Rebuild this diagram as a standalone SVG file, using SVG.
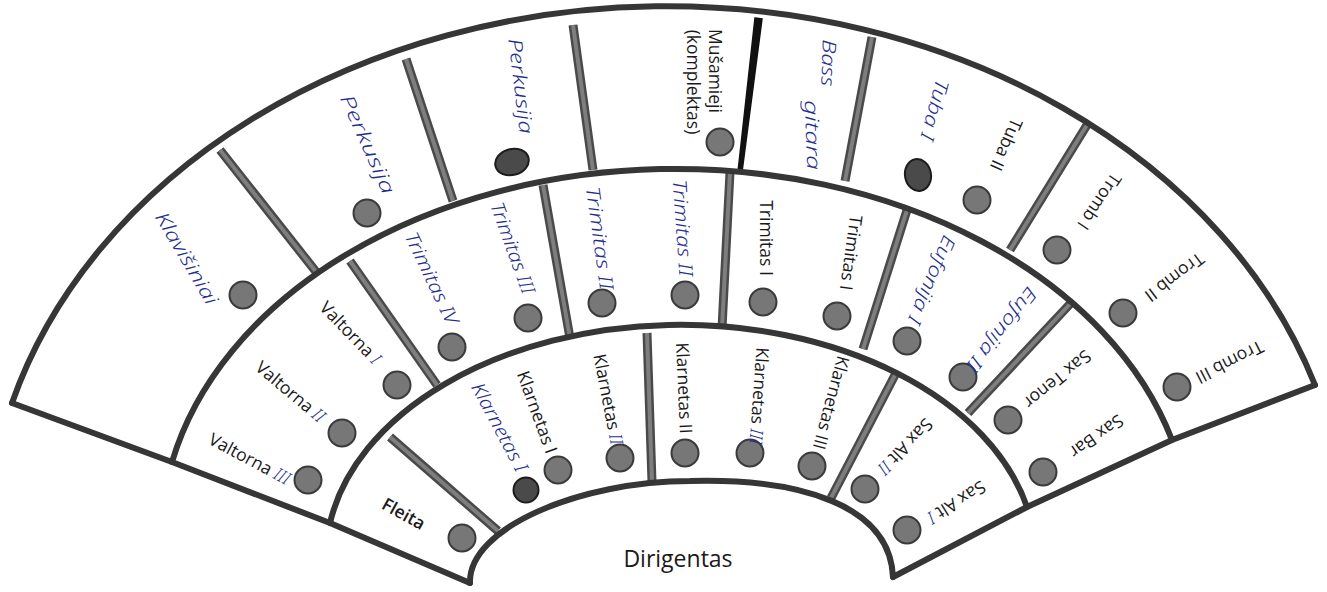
<svg xmlns="http://www.w3.org/2000/svg" width="1327" height="592" viewBox="0 0 1327 592">
<style>
.arc{fill:none;stroke:#363636;stroke-width:6;stroke-linejoin:round;stroke-linecap:round}
.div{fill:none;stroke:#4a4a4a;stroke-width:9;stroke-linecap:butt}
.divin{fill:none;stroke:#7e7e7e;stroke-width:4;stroke-linecap:butt}
.dot{fill:#777777;stroke:#3a3a3a;stroke-width:2}
.dark{fill:#4a4a4a;stroke:#1c1c1c;stroke-width:2}
.t{font-family:"Open Sans","Noto Sans",sans-serif;font-size:17.5px;fill:#1a1a1a;text-anchor:middle;dominant-baseline:central}
.h{font-family:"Noto Sans","DejaVu Sans",sans-serif;font-style:italic;font-weight:300;font-size:19px;fill:#1f2f8f;text-anchor:middle;dominant-baseline:central}
.hs{font-family:"Noto Sans","DejaVu Sans",sans-serif;font-style:italic;font-weight:300;fill:#1f2f8f}
</style>
<rect width="1327" height="592" fill="#ffffff"/>
<g id="dividers">
<path class="div" d="M220,150L317,273 M406,59L453,201 M573,25L593,170 M872,37L845,181 M1087,125L1010,250 M350,261L437,385 M543,185L570,338 M730,172L722,328 M908,207L863,349 M1070,304L968,413 M390,437L498,531 M647,333L652,482 M895,375L831,498"/>
<path class="divin" d="M220,150L317,273 M406,59L453,201 M573,25L593,170 M872,37L845,181 M1087,125L1010,250 M350,261L437,385 M543,185L570,338 M730,172L722,328 M908,207L863,349 M1070,304L968,413 M390,437L498,531 M647,333L652,482 M895,375L831,498"/>
<path d="M755,18L762,19L742,172L738,172Z" fill="#111" stroke="#111" stroke-width="1.5"/>
</g>
<g id="frame">
<path class="arc" d="M12,403 A680,543 0 0 1 1315,385"/>
<path class="arc" d="M172,462 A515,370 0 0 1 1172,440"/>
<path class="arc" d="M330,523 A355,234 0 0 1 1027,507"/>
<path class="arc" d="M470,583 C468,528 580,481 690,481 C800,478 890,505 893,577"/>
<path class="arc" d="M12,403 L172,462 L330,523 L470,583"/>
<path class="arc" d="M1315,385 L1172,440 L1027,507 L893,577"/>
</g>
<g id="cell-klavisiniai">
<circle class="dot" cx="243" cy="295" r="13.5"/>
<text class="h" transform="translate(187,258) rotate(59.5)" textLength="104" lengthAdjust="spacingAndGlyphs">Klavišiniai</text>
</g>
<g id="cell-perkusija-1">
<circle class="dot" cx="367" cy="213" r="13.5"/>
<text class="h" transform="translate(368,144) rotate(66)" textLength="107" lengthAdjust="spacingAndGlyphs">Perkusija</text>
</g>
<g id="cell-perkusija-2">
<ellipse class="dark" cx="512" cy="162" rx="17" ry="13" transform="rotate(-15 512 162)"/>
<text class="h" transform="translate(521,86) rotate(83)" textLength="96" lengthAdjust="spacingAndGlyphs">Perkusija</text>
</g>
<g id="cell-musamieji">
<circle class="dot" cx="720" cy="142" r="13.5"/>
<text class="t" transform="translate(716,71) rotate(90)">Mušamieji</text>
<text class="t" transform="translate(694,82) rotate(90)">(komplektas)</text>
</g>
<g id="cell-bass-gitara">
<text class="h" transform="translate(829,63) rotate(92)" textLength="47" lengthAdjust="spacingAndGlyphs">Bass</text>
<text class="h" transform="translate(813,135) rotate(88)" textLength="70" lengthAdjust="spacingAndGlyphs">gitara</text>
</g>
<g id="cell-tuba">
<ellipse class="dark" cx="918" cy="175" rx="13" ry="16" transform="rotate(-10 918 175)"/>
<circle class="dot" cx="977" cy="200" r="13.5"/>
<text class="h" transform="translate(935,110) rotate(105)" textLength="62" lengthAdjust="spacingAndGlyphs">Tuba I</text>
<text class="t" transform="translate(1007,145) rotate(114)">Tuba II</text>
</g>
<g id="cell-tromb">
<circle class="dot" cx="1057" cy="250" r="13.5"/>
<circle class="dot" cx="1123" cy="313" r="13.5"/>
<circle class="dot" cx="1177" cy="387" r="13.5"/>
<text class="t" transform="translate(1100,202) rotate(124)">Tromb I</text>
<text class="t" transform="translate(1175,278) rotate(143)">Tromb II</text>
<text class="t" transform="translate(1230,363) rotate(153)">Tromb III</text>
</g>
<g id="cell-valtorna">
<circle class="dot" cx="397" cy="385" r="13.5"/>
<circle class="dot" cx="342" cy="433" r="13.5"/>
<circle class="dot" cx="308" cy="480" r="13.5"/>
<text class="t" transform="translate(351,332) rotate(46)">Valtorna <tspan class="hs">I</tspan></text>
<text class="t" transform="translate(291,391) rotate(40)">Valtorna <tspan class="hs">II</tspan></text>
<text class="t" transform="translate(250,458) rotate(28)">Valtorna <tspan class="hs">III</tspan></text>
</g>
<g id="cell-trimitas-3-4">
<circle class="dot" cx="452" cy="347" r="13.5"/>
<circle class="dot" cx="528" cy="318" r="13.5"/>
<text class="h" transform="translate(432,278) rotate(64.5)" textLength="100" lengthAdjust="spacingAndGlyphs">Trimitas IV</text>
<text class="h" transform="translate(513,248) rotate(70)" textLength="96" lengthAdjust="spacingAndGlyphs">Trimitas III</text>
</g>
<g id="cell-trimitas-2">
<circle class="dot" cx="602" cy="303" r="13.5"/>
<circle class="dot" cx="685" cy="295" r="13.5"/>
<text class="h" transform="translate(600,238) rotate(82)" textLength="104" lengthAdjust="spacingAndGlyphs">Trimitas II</text>
<text class="h" transform="translate(683,228) rotate(86)" textLength="97" lengthAdjust="spacingAndGlyphs">Trimitas II</text>
</g>
<g id="cell-trimitas-1">
<circle class="dot" cx="763" cy="302" r="13.5"/>
<circle class="dot" cx="837" cy="316" r="13.5"/>
<text class="t" transform="translate(767,238) rotate(90)">Trimitas I</text>
<text class="t" transform="translate(852,253) rotate(98)">Trimitas I</text>
</g>
<g id="cell-eufonija">
<circle class="dot" cx="907" cy="341" r="13.5"/>
<circle class="dot" cx="963" cy="377" r="13.5"/>
<text class="h" transform="translate(932,280) rotate(113)" textLength="94" lengthAdjust="spacingAndGlyphs">Eufonija I</text>
<text class="h" transform="translate(1002,330) rotate(128)" textLength="102" lengthAdjust="spacingAndGlyphs">Eufonija II</text>
</g>
<g id="cell-sax-tenor-bar">
<circle class="dot" cx="1008" cy="420" r="13.5"/>
<circle class="dot" cx="1043" cy="472" r="13.5"/>
<text class="t" transform="translate(1058,380) rotate(141)">Sax Tenor</text>
<text class="t" transform="translate(1097,437) rotate(145)">Sax Bar</text>
</g>
<g id="cell-fleita">
<circle class="dot" cx="462" cy="538" r="13.5"/>
<text class="t" transform="translate(404,513) rotate(29)" font-weight="600">Fleita</text>
</g>
<g id="cell-klarnetas-1">
<circle class="dark" cx="526" cy="490" r="12.5"/>
<circle class="dot" cx="558" cy="470" r="13.5"/>
<circle class="dot" cx="620" cy="458" r="13.5"/>
<text class="h" transform="translate(500,427) rotate(62)" textLength="98" lengthAdjust="spacingAndGlyphs">Klarnetas I</text>
<text class="t" transform="translate(538,412) rotate(70)">Klarnetas I</text>
<text class="t" transform="translate(609,399) rotate(79)">Klarnetas <tspan class="hs">II</tspan></text>
</g>
<g id="cell-klarnetas-2">
<circle class="dot" cx="685" cy="453" r="13.5"/>
<circle class="dot" cx="750" cy="453" r="13.5"/>
<circle class="dot" cx="812" cy="466" r="13.5"/>
<text class="t" transform="translate(685,388) rotate(87.5)">Klarnetas II</text>
<text class="t" transform="translate(760,396) rotate(94)">Klarnetas <tspan class="hs">III</tspan></text>
<text class="t" transform="translate(832,403) rotate(105)">Klarnetas III</text>
</g>
<g id="cell-sax-alt">
<circle class="dot" cx="865" cy="489" r="13.5"/>
<circle class="dot" cx="907" cy="530" r="13.5"/>
<text class="t" transform="translate(906,447) rotate(134)">Sax Alt <tspan class="hs">II</tspan></text>
<text class="t" transform="translate(957,503) rotate(148)">Sax Alt <tspan class="hs">I</tspan></text>
</g>
<g id="dirigentas">
<text x="678" y="567" font-family="Open Sans, Noto Sans, sans-serif" font-size="23" fill="#1a1a1a" text-anchor="middle">Dirigentas</text>
</g>
</svg>
